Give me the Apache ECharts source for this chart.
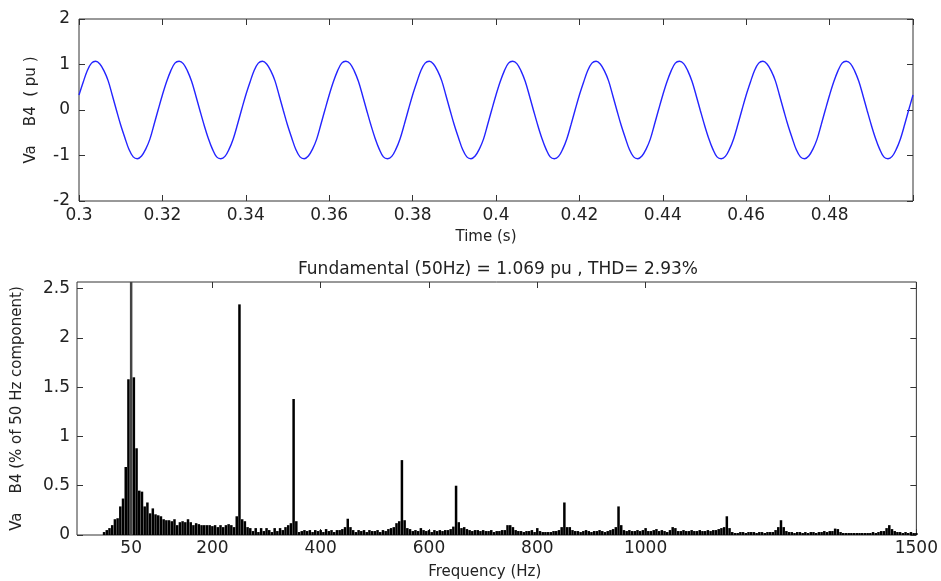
<!DOCTYPE html>
<html>
<head>
<meta charset="utf-8">
<script src="https://cdn.jsdelivr.net/npm/echarts@6/dist/echarts.min.js"></script>
<style>
html,body{margin:0;padding:0;background:#fff;}
#c{width:941px;height:581px;}
</style>
</head>
<body>
<div id="c"></div>
<script>
// ---- Top panel: time signal Va B4 (pu), sampled every 1 ms from 0.300 s ----
const tStart = 0.300;
const tStep = 0.001;
const vaSignal = [
  0.33, 0.61, 0.87, 1.03, 1.07, 1.01, 0.86, 0.64, 0.32, -0.01, -0.33, -0.61, -0.87, -1.03, -1.07, -1.01, -0.86, -0.64, -0.32, 0.01,
  0.33, 0.62, 0.86, 1.03, 1.07, 1.02, 0.86, 0.63, 0.32, -0.01, -0.33, -0.62, -0.86, -1.03, -1.07, -1.02, -0.86, -0.63, -0.32, 0.01,
  0.33, 0.61, 0.87, 1.03, 1.07, 1.01, 0.86, 0.64, 0.32, -0.01, -0.33, -0.61, -0.87, -1.03, -1.07, -1.01, -0.86, -0.64, -0.32, 0.01,
  0.33, 0.62, 0.86, 1.03, 1.07, 1.02, 0.86, 0.63, 0.32, -0.01, -0.33, -0.62, -0.86, -1.03, -1.07, -1.02, -0.86, -0.63, -0.32, 0.01,
  0.33, 0.61, 0.87, 1.03, 1.07, 1.01, 0.86, 0.64, 0.32, -0.01, -0.33, -0.61, -0.87, -1.03, -1.07, -1.01, -0.86, -0.64, -0.32, 0.01,
  0.33, 0.62, 0.86, 1.03, 1.07, 1.02, 0.86, 0.63, 0.32, -0.01, -0.33, -0.62, -0.86, -1.03, -1.07, -1.02, -0.86, -0.63, -0.32, 0.01,
  0.33, 0.61, 0.87, 1.03, 1.07, 1.01, 0.86, 0.64, 0.32, -0.01, -0.33, -0.61, -0.87, -1.03, -1.07, -1.01, -0.86, -0.64, -0.32, 0.01,
  0.33, 0.62, 0.86, 1.03, 1.07, 1.02, 0.86, 0.63, 0.32, -0.01, -0.33, -0.62, -0.86, -1.03, -1.07, -1.02, -0.86, -0.63, -0.32, 0.01,
  0.33, 0.61, 0.87, 1.03, 1.07, 1.01, 0.86, 0.64, 0.32, -0.01, -0.33, -0.61, -0.87, -1.03, -1.07, -1.01, -0.86, -0.64, -0.32, 0.01,
  0.33, 0.62, 0.86, 1.03, 1.07, 1.02, 0.86, 0.63, 0.32, -0.01, -0.33, -0.62, -0.86, -1.03, -1.07, -1.02, -0.86, -0.63, -0.32, 0.01,
  0.33
];
const signalYTicks = [-2, -1, 0, 1, 2];

// ---- Bottom panel: spectrum, % of 50 Hz component, bins every 5 Hz from 0 Hz ----
const binStepHz = 5;
const spectrum = [
  0.03, 0.05, 0.07, 0.10, 0.16, 0.17, 0.29, 0.37, 0.69, 1.58,            // 0-45
  100,                                                                    // 50 (fundamental)
  1.60, 0.88, 0.45, 0.44, 0.29, 0.33, 0.22, 0.27,                         // 55-90
  0.21, 0.20, 0.19, 0.16, 0.15, 0.15, 0.14, 0.16, 0.10, 0.13, 0.14,       // 95-145
  0.13, 0.16, 0.13, 0.10, 0.12, 0.11, 0.10, 0.10, 0.10, 0.10,             // 150-195
  0.09, 0.10, 0.08, 0.10, 0.08, 0.10, 0.11, 0.10, 0.08,                   // 200-240
  0.19, 2.34, 0.16, 0.14, 0.08,                                           // 245-265
  0.07, 0.04, 0.07, 0.03, 0.07, 0.04, 0.07, 0.05, 0.03, 0.07, 0.04, 0.07, 0.05, // 270-330
  0.08, 0.10, 0.12, 1.38, 0.14, 0.03, 0.04,                               // 335-365
  0.05, 0.04, 0.05, 0.03, 0.05, 0.04, 0.05, 0.03, 0.06, 0.04, 0.05, 0.03, 0.05, // 370-430
  0.05, 0.06, 0.08,                                                       // 435-445
  0.165, 0.08, 0.05,                                                      // 450-460
  0.03, 0.05, 0.04, 0.05, 0.03, 0.05, 0.04, 0.04, 0.05, 0.03, 0.05, 0.04, 0.06, // 465-525
  0.07, 0.08, 0.12, 0.14, 0.76, 0.15, 0.07, 0.06, 0.04,                   // 530-570
  0.05, 0.04, 0.07, 0.05, 0.04, 0.05, 0.03, 0.05, 0.04, 0.05, 0.04, 0.05, 0.05, 0.06, // 575-640
  0.085, 0.50, 0.13, 0.07, 0.08, 0.06,                                    // 645-670
  0.05, 0.04, 0.05, 0.05, 0.04, 0.05, 0.04, 0.04, 0.05, 0.03, 0.04, 0.04, 0.05, 0.05, // 675-740
  0.10, 0.10, 0.08, 0.05,                                                 // 745-760
  0.04, 0.04, 0.03, 0.04, 0.04, 0.05, 0.03, 0.07, 0.04, 0.03, 0.03, 0.03, 0.03, 0.04, 0.04, // 765-835
  0.05, 0.08, 0.33, 0.08, 0.08, 0.05,                                     // 840-865
  0.04, 0.04, 0.03, 0.04, 0.05, 0.04, 0.03, 0.04, 0.04, 0.05, 0.04, 0.03, 0.04, 0.05, 0.06, // 870-940
  0.08, 0.29, 0.10, 0.05,                                                 // 945-960
  0.04, 0.05, 0.04, 0.04, 0.05, 0.04, 0.05, 0.07, 0.04, 0.04, 0.05, 0.06, 0.04, 0.05, 0.04, 0.03, 0.05, // 965-1045
  0.08, 0.07, 0.04,                                                       // 1050-1060
  0.04, 0.05, 0.04, 0.04, 0.05, 0.04, 0.04, 0.05, 0.04, 0.04, 0.05, 0.04, 0.05, 0.05, 0.06, // 1065-1135
  0.07, 0.08, 0.19, 0.07, 0.03,                                           // 1140-1160
  0.02, 0.02, 0.03, 0.03, 0.02, 0.03, 0.03, 0.03, 0.02, 0.03, 0.03, 0.02, 0.03, 0.03, 0.03, // 1165-1235
  0.05, 0.08, 0.15, 0.08, 0.04,                                           // 1240-1260
  0.03, 0.03, 0.02, 0.03, 0.03, 0.02, 0.03, 0.02, 0.03, 0.03, 0.02, 0.03, 0.03, 0.04, 0.03, 0.04, 0.04, // 1265-1345
  0.065, 0.06, 0.03,                                                      // 1350-1360
  0.02, 0.02, 0.02, 0.02, 0.02, 0.02, 0.02, 0.02, 0.02, 0.02, 0.02, 0.03, 0.02, 0.03, 0.04, // 1365-1435
  0.04, 0.07, 0.10, 0.06, 0.04,                                           // 1440-1460
  0.03, 0.03, 0.02, 0.03, 0.02, 0.03, 0.02, 0.02                          // 1465-1500
];
const freqTicks = [50, 200, 400, 600, 800, 1000, 1500];
const spectrumYTicks = [0, 0.5, 1, 1.5, 2, 2.5];

const titleText = 'Fundamental (50Hz) = 1.069 pu , THD= 2.93%';

const signalData = vaSignal.map((v, i) => [+(tStart + i * tStep).toFixed(4), v]);
const spectrumData = spectrum.map((v, i) => [i * binStepHz, v]);

const FONT = 'DejaVu Sans';
const TXT = '#222';
const LINE = '#333';
const lbl = (extra) => Object.assign({ color: TXT, fontFamily: FONT, fontSize: 16 }, extra || {});
const tick = (extra) => Object.assign({ show: true, inside: true, length: 6, lineStyle: { color: LINE } }, extra || {});
const noLine = { show: false, onZero: false };

const chart = echarts.init(document.getElementById('c'), null, { renderer: 'canvas' });
chart.setOption({
  animation: false,
  backgroundColor: '#fff',
  title: {
    text: titleText,
    left: 493, top: 256, textAlign: 'center',
    textStyle: { color: TXT, fontFamily: FONT, fontSize: 17, fontWeight: 'normal' }
  },
  grid: [
    { left: 79, right: 28, top: 19, height: 182, show: true, borderColor: LINE, borderWidth: 1, containLabel: false },
    { left: 77, right: 19, top: 282, height: 254, show: true, borderColor: LINE, borderWidth: 1, containLabel: false }
  ],
  xAxis: [
    {
      gridIndex: 0, type: 'value', min: 0.3, max: 0.5, interval: 0.02, position: 'bottom',
      name: 'Time (s)', nameLocation: 'middle', nameGap: 29,
      nameTextStyle: lbl({ fontSize: 15, padding: [0, 20, 0, 0] }),
      axisLine: noLine,
      axisTick: tick(),
      axisLabel: lbl({ margin: 6, fontSize: 17, formatter: v => (v > 0.495 ? '' : String(+v.toFixed(2))) }),
      splitLine: { show: false }
    },
    {
      gridIndex: 0, type: 'value', min: 0.3, max: 0.5, interval: 0.02, position: 'top',
      axisLine: noLine,
      axisTick: tick(),
      axisLabel: { show: false }, splitLine: { show: false }
    },
    {
      gridIndex: 1, type: 'value', min: -50, max: 1500, position: 'bottom',
      name: 'Frequency (Hz)', nameLocation: 'middle', nameGap: 30,
      nameTextStyle: lbl({ fontSize: 15, padding: [0, 24, 0, 0] }),
      axisLine: noLine,
      axisTick: tick({ customValues: freqTicks }),
      axisLabel: lbl({ margin: 5, fontSize: 17, customValues: freqTicks, formatter: v => String(v) }),
      splitLine: { show: false }
    },
    {
      gridIndex: 1, type: 'value', min: -50, max: 1500, position: 'top',
      axisLine: noLine,
      axisTick: tick({ customValues: freqTicks }),
      axisLabel: { show: false, customValues: freqTicks }, splitLine: { show: false }
    }
  ],
  yAxis: [
    {
      gridIndex: 0, type: 'value', min: -2, max: 2, interval: 1, position: 'left',
      name: 'Va    B4  ( pu )', nameLocation: 'middle', nameGap: 40, nameRotate: 90,
      nameTextStyle: lbl({ fontSize: 15 }),
      axisLine: noLine,
      axisTick: tick(),
      axisLabel: lbl({ margin: 9, fontSize: 17 }),
      splitLine: { show: false }
    },
    {
      gridIndex: 0, type: 'value', min: -2, max: 2, interval: 1, position: 'right',
      axisLine: noLine,
      axisTick: tick(),
      axisLabel: { show: false }, splitLine: { show: false }
    },
    {
      gridIndex: 1, type: 'value', min: 0, max: 2.567, position: 'left',
      name: 'Va    B4 (% of 50 Hz component)', nameLocation: 'middle', nameGap: 52, nameRotate: 90,
      nameTextStyle: lbl({ fontSize: 15 }),
      axisLine: noLine,
      axisTick: tick({ customValues: spectrumYTicks }),
      axisLabel: lbl({ margin: 7, fontSize: 17, customValues: spectrumYTicks }),
      splitLine: { show: false }
    },
    {
      gridIndex: 1, type: 'value', min: 0, max: 2.567, position: 'right',
      axisLine: noLine,
      axisTick: tick({ customValues: spectrumYTicks }),
      axisLabel: { show: false, customValues: spectrumYTicks }, splitLine: { show: false }
    }
  ],
  series: [
    {
      type: 'line', xAxisIndex: 0, yAxisIndex: 0, data: signalData,
      smooth: 0.35, showSymbol: false, symbol: 'none',
      lineStyle: { color: '#2424ff', width: 1.4 }
    },
    {
      type: 'bar', xAxisIndex: 2, yAxisIndex: 2, data: spectrumData,
      barWidth: 2.5, clip: true,
      itemStyle: { color: p => (p.value[1] > 50 ? '#444' : '#000') }
    }
  ]
});
</script>
</body>
</html>
